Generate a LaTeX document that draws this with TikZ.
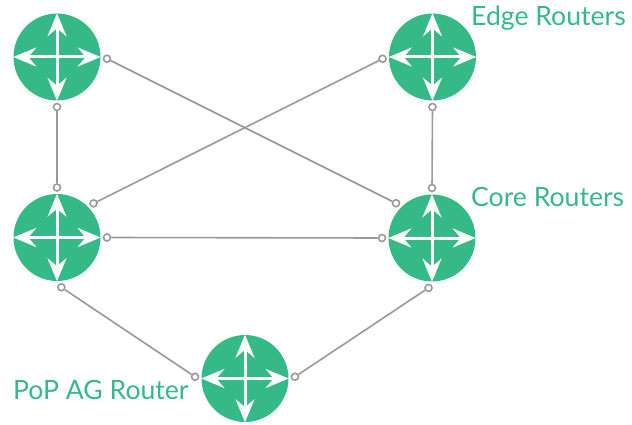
\documentclass[tikz,border=0pt]{standalone}
\usepackage{fontspec}
\setmainfont{Lato}
\usetikzlibrary{arrows.meta}
\definecolor{routergreen}{RGB}{52,185,135}
\definecolor{linkgray}{RGB}{153,153,153}

\tikzset{
  router/.style={circle,fill=routergreen,minimum size=87pt,inner sep=0pt},
  cross/.style={white,line width=3pt,
    {Stealth[length=23pt,width=19pt,inset=8pt]}-{Stealth[length=23pt,width=19pt,inset=8pt]}},
  port/.style={circle,draw=linkgray,fill=white,line width=1.6pt,minimum size=7pt,inner sep=0pt},
  link/.style={draw=linkgray,line width=1.6pt},
  tag/.style={text=routergreen,anchor=base west,inner sep=0pt,font=\fontsize{26.6}{30}\selectfont}
}

\begin{document}
\begin{tikzpicture}[x=1pt,y=1pt]

  \useasboundingbox (0,0) rectangle (632,424);

  % routers
  \node[router] (el)  at (57,367) {};
  \node[router] (er)  at (432.5,367) {};
  \node[router] (cl)  at (57,186.5) {};
  \node[router] (cr)  at (432,186) {};
  \node[router] (pop) at (245,45.5) {};

  \foreach \r in {el,er,cl,cr,pop} {
    \draw[cross] (\r.north) -- (\r.south);
    \draw[cross] (\r.west) -- (\r.east);
  }

  % ports
  \foreach \r/\a/\n in {el/-2/e, el/-90/s, er/182/w, er/-90/s,
                        cl/90/n, cl/43/ne, cl/0/e, cl/-85/s,
                        cr/90/n, cr/136/nw, cr/180/w, cr/-94/s,
                        pop/178/w, pop/2/e}
    \node[port] (\r-\n) at ([shift={(\a:50)}]\r.center) {};

  % links
  \draw[link] (el-e) -- (cr-nw);
  \draw[link] (er-w) -- (cl-ne);
  \draw[link] (el-s) -- (cl-n);
  \draw[link] (er-s) -- (cr-n);
  \draw[link] (cl-e) -- (cr-w);
  \draw[link] (cl-s) -- (pop-w);
  \draw[link] (cr-s) -- (pop-e);

  % labels
  \node[tag] (edge-label) at (471,398) {Edge Routers};
  \node[tag] (core-label) at (471,218) {Core Routers};
  \node[tag] (pop-label)  at (13,25)   {PoP AG Router};

\end{tikzpicture}
\end{document}
